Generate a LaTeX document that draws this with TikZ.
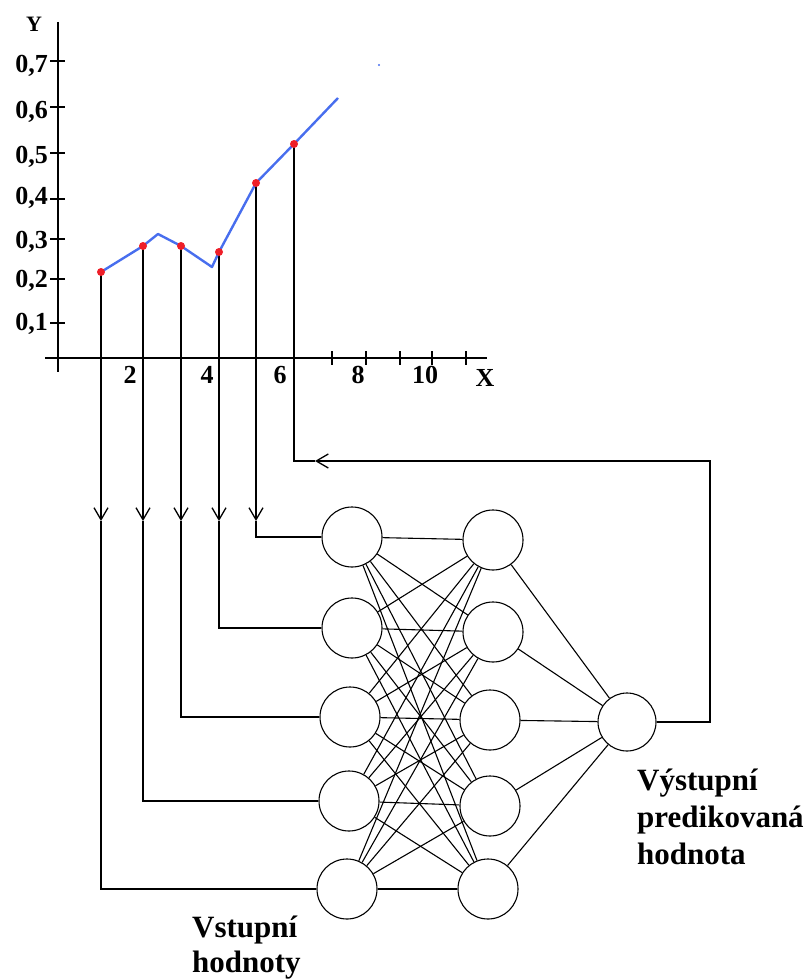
\documentclass[tikz,border=0pt]{standalone}
\usepackage{fontspec}
\setmainfont{Liberation Serif}
\usetikzlibrary{arrows.meta}
\definecolor{curveblue}{RGB}{72,110,238}
\definecolor{dotred}{RGB}{238,30,40}
\begin{document}
\begin{tikzpicture}[x=1pt,y=-1pt,
  axis/.style={line width=2.8pt},
  tick/.style={line width=2pt},
  wire/.style={line width=1.4pt},
  neuron/.style={circle, draw, line width=1.1pt, minimum size=60pt, inner sep=0pt},
  syn/.style={line width=1.1pt},
  curve/.style={draw=curveblue, line width=2.4pt, line join=round},
  dot/.style={circle, fill=dotred, inner sep=0pt, minimum size=8pt},
  ylab/.style={anchor=base east, inner sep=0pt, font=\fontsize{26}{30}\selectfont\bfseries},
  xlab/.style={anchor=base, inner sep=0pt, font=\fontsize{26}{30}\selectfont\bfseries},
  arr/.style={-{Straight Barb[length=12pt,width=14pt,line width=1.3pt]}},
  txt/.style={anchor=base west, inner sep=0pt, font=\fontsize{31}{37}\selectfont\bfseries}
]
\useasboundingbox (0,0) rectangle (805,979);

% ---- axes ----
\draw[axis] (58,22) -- (58,372);
\draw[axis] (45,358) -- (487,358);
\foreach \ty in {61,107,153,199,239,279,323}
  \draw[tick] (50,\ty) -- (65,\ty);
\foreach \tx in {332,366,400,432,466}
  \draw[tick] (\tx,351) -- (\tx,365);

\node[ylab] (l7) at (48,73)  {0,7};
\node[ylab] (l6) at (48,118) {0,6};
\node[ylab] (l5) at (48,163) {0,5};
\node[ylab] (l4) at (48,204) {0,4};
\node[ylab] (l3) at (48,248) {0,3};
\node[ylab] (l2) at (48,287) {0,2};
\node[ylab] (l1) at (48,330) {0,1};
\node[anchor=base, inner sep=0pt, font=\fontsize{22}{26}\selectfont\bfseries] (ylabel) at (34,32) {Y};

\node[xlab] (x2)  at (130,383) {2};
\node[xlab] (x4)  at (207,383) {4};
\node[xlab] (x6)  at (280,383) {6};
\node[xlab] (x8)  at (358,383) {8};
\node[xlab] (x10) at (425,383) {10};
\node[xlab] (xlabel) at (485,386) {X};

% ---- data coordinates ----
\coordinate (c1) at (101,272);
\coordinate (c2) at (143,246);
\coordinate (c3) at (181,246);
\coordinate (c4) at (219,252);
\coordinate (c5) at (256,183);
\coordinate (c6) at (294,144);

% arrow tips
\coordinate (a1) at (101,521);
\coordinate (a2) at (143,521);
\coordinate (a3) at (181,521);
\coordinate (a4) at (219,521);
\coordinate (a5) at (256,521);

% ---- neurons ----
\node[neuron] (I1) at (352,537) {};
\node[neuron] (I2) at (352,628) {};
\node[neuron] (I3) at (350,717) {};
\node[neuron] (I4) at (349,801) {};
\node[neuron] (I5) at (347,889) {};
\node[neuron] (H1) at (493,540) {};
\node[neuron] (H2) at (493,632) {};
\node[neuron] (H3) at (490,720) {};
\node[neuron] (H4) at (490,806) {};
\node[neuron] (H5) at (488,889) {};
\node[neuron, minimum size=58pt] (O) at (627,722) {};

\foreach \i in {1,...,5}
  \foreach \h in {1,...,5}
    \draw[syn] (I\i) -- (H\h);
\foreach \h in {1,...,5}
  \draw[syn] (H\h) -- (O);

% ---- sample lines to inputs ----
\draw[wire,arr] (c1) -- (a1);
\draw[wire,arr] (c2) -- (a2);
\draw[wire,arr] (c3) -- (a3);
\draw[wire,arr] (c4) -- (a4);
\draw[wire,arr] (c5) -- (a5);
\draw[wire] (a1) |- (I5);
\draw[wire] (a2) |- (I4);
\draw[wire] (a3) |- (I3);
\draw[wire] (a4) |- (I2);
\draw[wire] (a5) |- (I1);

% ---- feedback from output ----
\coordinate (f1) at (710,722);
\coordinate (f2) at (710,461);
\coordinate (fa) at (315,461);
\coordinate (f3) at (294,461);
\draw[wire,arr] (O.east) -- (f1) -- (f2) -- (fa);
\draw[wire] (fa) -- (f3) -- (c6);

% ---- curve ----
\draw[curve] (c1) -- (c2) -- (158,234) -- (c3) -- (212,267) -- (c4) -- (c5) -- (c6) -- (338,98);
\fill[curveblue] (379,65) circle (1.2pt);
\foreach \k in {1,...,6}
  \node[dot] (d\k) at (c\k) {};

% ---- labels ----
\node[txt] (out1) at (637,790) {Výstupní};
\node[txt] (out2) at (637,827) {predikovaná};
\node[txt] (out3) at (637,864) {hodnota};
\node[txt] (in1) at (192,937) {Vstupní};
\node[txt] (in2) at (192,972) {hodnoty};
\end{tikzpicture}
\end{document}
